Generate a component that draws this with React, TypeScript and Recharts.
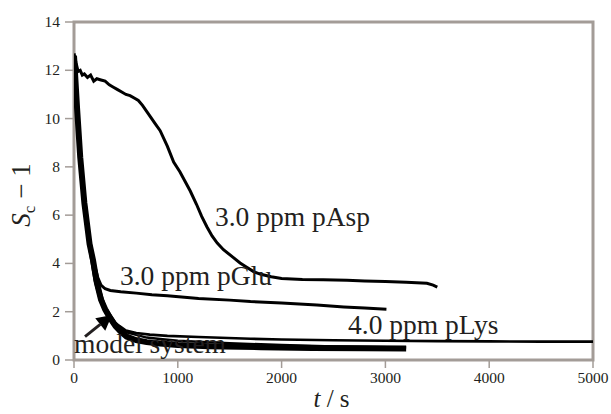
import React from 'react'
import {
  LineChart,
  Line,
  XAxis,
  YAxis,
  ReferenceArea,
  ReferenceDot,
  ReferenceLine,
  Label,
} from 'recharts'

type Pt = { t: number; v: number }
const toPts = (rows: number[][]): Pt[] => rows.map(([t, v]) => ({ t, v }))

// 3.0 ppm pAsp
const pAsp = toPts([
  [0, 12.7], [20, 12.3], [40, 11.95], [60, 12.0], [80, 11.8], [100, 11.85],
  [130, 11.7], [160, 11.8], [190, 11.55], [220, 11.65], [260, 11.6], [300, 11.55],
  [340, 11.4], [380, 11.3], [420, 11.2], [460, 11.1], [500, 11.0], [540, 10.95],
  [580, 10.85], [620, 10.75], [660, 10.55], [700, 10.3], [740, 10.05], [780, 9.8],
  [830, 9.5], [900, 8.85], [960, 8.2], [1020, 7.8], [1120, 7.0], [1180, 6.45],
  [1230, 5.95], [1280, 5.52], [1330, 5.14], [1380, 4.84], [1440, 4.57], [1530, 4.26],
  [1600, 4.02], [1660, 3.85], [1730, 3.66], [1800, 3.55], [1900, 3.45], [2000, 3.38],
  [2200, 3.33], [2400, 3.32], [2630, 3.3], [2800, 3.27], [3000, 3.25], [3200, 3.22],
  [3400, 3.18], [3460, 3.1], [3500, 3.02],
])

// 3.0 ppm pGlu
const pGlu = toPts([
  [0, 12.5], [30, 10.5], [60, 8.6], [100, 6.8], [150, 5.0], [200, 3.9], [230, 3.4],
  [260, 3.1], [300, 2.95], [350, 2.88], [450, 2.83], [600, 2.77], [750, 2.7],
  [900, 2.66], [1200, 2.55], [1500, 2.48], [1700, 2.42], [2000, 2.36], [2340, 2.28],
  [2600, 2.2], [2800, 2.15], [3010, 2.1],
])

// 4.0 ppm pLys
const pLys = toPts([
  [0, 12.1], [30, 10.2], [60, 8.3], [100, 6.4], [150, 4.6], [200, 3.3], [250, 2.5],
  [300, 2.0], [350, 1.7], [400, 1.5], [450, 1.37], [500, 1.22], [600, 1.12],
  [730, 1.05], [900, 1.0], [1200, 0.95], [1700, 0.88], [2000, 0.85], [2500, 0.82],
  [3000, 0.8], [3500, 0.78], [4000, 0.77], [4500, 0.76], [5000, 0.76],
])

// model system, repeated runs
const modelA = toPts([
  [0, 12.6], [30, 10.4], [60, 8.4], [100, 6.5], [150, 4.8], [183, 4.14], [220, 3.2],
  [260, 2.5], [300, 2.1], [347, 1.74], [400, 1.4], [450, 1.18], [507, 0.97],
  [600, 0.82], [700, 0.74], [830, 0.68], [1000, 0.62], [1300, 0.57], [1800, 0.53],
  [2300, 0.5], [2800, 0.49], [3200, 0.48],
])
const modelB = toPts([
  [0, 12.4], [60, 8.2], [150, 4.7], [220, 3.3], [300, 2.2], [400, 1.55], [500, 1.15],
  [700, 0.93], [830, 0.87], [1000, 0.8], [1500, 0.7], [2000, 0.62], [2500, 0.56],
  [3200, 0.52],
])

const xTicks = [0, 1000, 2000, 3000, 4000, 5000]
const yTicks = [0, 2, 4, 6, 8, 10, 12, 14]

const notes = [
  { t: 1358, v: 5.55, text: '3.0 ppm pAsp' },
  { t: 443, v: 3.11, text: '3.0 ppm pGlu' },
  { t: 2640, v: 1.08, text: '4.0 ppm pLys' },
  { t: 0, v: 0.29, text: 'model system' },
]

const serif = 'Liberation Serif'
const ink = '#231f20'
const frame = '#a39c97'

const Note = (text: string) => (p: any) => (
  <text x={p.cx} y={p.cy} style={{ fontFamily: serif, fontSize: 27.5 }} fill={ink}>
    {text}
  </text>
)

const XTick = (p: any) => (
  <text
    x={p.x}
    y={p.y + 13}
    textAnchor="middle"
    style={{ fontFamily: serif, fontSize: 15.5 }}
    fill={ink}
  >
    {p.payload.value}
  </text>
)

const YTick = (p: any) => (
  <text
    x={p.x}
    y={p.y + 5}
    textAnchor="end"
    style={{ fontFamily: serif, fontSize: 15.5 }}
    fill={ink}
  >
    {p.payload.value}
  </text>
)

const Arrow = (p: any) => {
  const { x1, y1, x2, y2 } = p
  const dx = x2 - x1
  const dy = y2 - y1
  const len = Math.sqrt(dx * dx + dy * dy)
  const ux = dx / len
  const uy = dy / len
  const bx = x2 - ux * 15
  const by = y2 - uy * 15
  const w = 8
  return (
    <g>
      <line x1={x1} y1={y1} x2={bx} y2={by} stroke={ink} strokeWidth={3} />
      <polygon
        points={`${x2},${y2} ${bx - uy * w},${by + ux * w} ${bx + uy * w},${by - ux * w}`}
        fill="#000"
      />
    </g>
  )
}

const YTitle = (p: any) => {
  const vb = p.viewBox
  const cx = 30
  const cy = vb.y + vb.height / 2 + 4
  return (
    <text
      x={cx}
      y={cy}
      transform={`rotate(-90 ${cx} ${cy})`}
      textAnchor="middle"
      style={{ fontFamily: serif, fontSize: 27 }}
      fill={ink}
    >
      <tspan fontStyle="italic">S</tspan>
      <tspan style={{ fontSize: 17 }} dy={5}>c</tspan>
      <tspan dy={-5}> − 1</tspan>
    </text>
  )
}

const XTitle = (p: any) => {
  const vb = p.viewBox
  const cx = vb.x + vb.width / 2 - 2
  return (
    <text x={cx} y={407} textAnchor="middle" style={{ fontFamily: serif, fontSize: 25 }} fill={ink}>
      <tspan fontStyle="italic">t</tspan>
      <tspan> / s</tspan>
    </text>
  )
}

export default function App() {
  return (
    <div style={{ position: 'absolute', left: 0, top: 0, background: '#fff' }}>
      <LineChart
        width={611}
        height={414}
        margin={{ top: 22, right: 18, bottom: 0, left: 0 }}
      >
        <XAxis
          type="number"
          dataKey="t"
          domain={[0, 5000]}
          ticks={xTicks}
          tick={XTick}
          tickSize={8}
          tickMargin={2}
          height={54}
          axisLine={false}
          tickLine={{ stroke: frame, strokeWidth: 1.5 }}
          allowDataOverflow
        >
          <Label content={XTitle} />
        </XAxis>
        <YAxis
          type="number"
          dataKey="v"
          domain={[0, 14]}
          ticks={yTicks}
          tick={YTick}
          tickSize={9}
          tickMargin={5}
          width={74}
          axisLine={false}
          tickLine={{ stroke: frame, strokeWidth: 1.5 }}
          allowDataOverflow
        >
          <Label content={YTitle} />
        </YAxis>
        <ReferenceArea
          x1={0}
          x2={5000}
          y1={0}
          y2={14}
          fill="none"
          stroke={frame}
          strokeWidth={3}
        />
        {notes.map((n) => (
          <ReferenceDot
            key={n.text}
            x={n.t}
            y={n.v}
            r={0}
            ifOverflow="visible"
            shape={Note(n.text)}
          />
        ))}
        <Line data={pAsp} dataKey="v" type="linear" stroke="#000" strokeWidth={3} dot={false} isAnimationActive={false} />
        <Line data={pGlu} dataKey="v" type="linear" stroke="#000" strokeWidth={3} dot={false} isAnimationActive={false} />
        <Line data={pLys} dataKey="v" type="linear" stroke="#000" strokeWidth={2.6} dot={false} isAnimationActive={false} />
        <Line data={modelB} dataKey="v" type="linear" stroke="#000" strokeWidth={2.4} dot={false} isAnimationActive={false} />
        <Line data={modelA} dataKey="v" type="linear" stroke="#000" strokeWidth={6} dot={false} isAnimationActive={false} />
        <ReferenceLine
          segment={[{ x: 106, y: 0.97 }, { x: 366, y: 1.86 }]}
          ifOverflow="visible"
          shape={Arrow}
        />
      </LineChart>
    </div>
  )
}
